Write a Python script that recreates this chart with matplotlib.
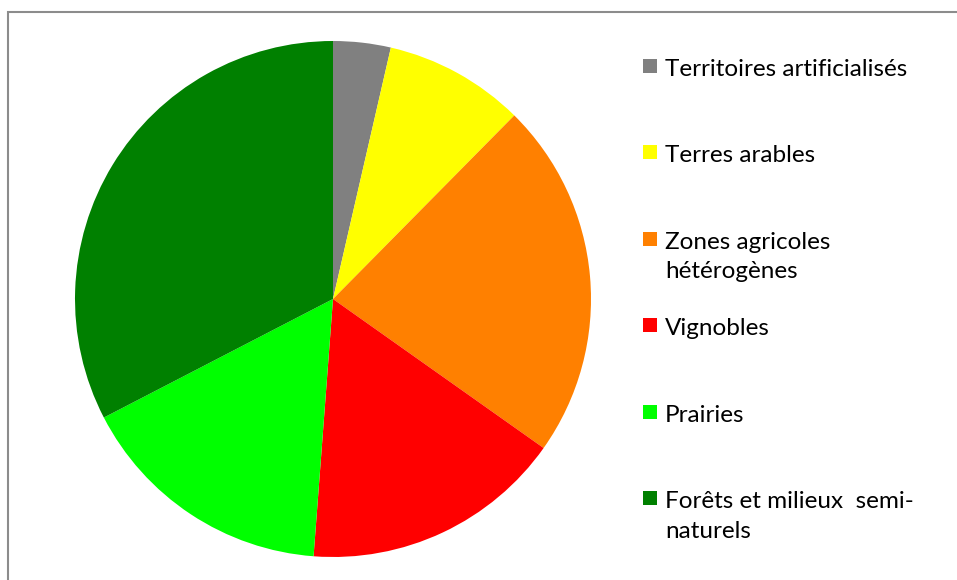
import matplotlib
matplotlib.use("Agg")
import matplotlib.pyplot as plt
from matplotlib.patches import Rectangle

# share of each land cover type (%)
labels = ["Territoires artificialisés", "Terres arables",
          "Zones agricoles\nhétérogènes", "Vignobles", "Prairies",
          "Forêts et milieux  semi-\nnaturels"]
values = [3.6, 8.8, 22.4, 16.4, 16.2, 32.6]
colors = ["#808080", "#ffff00", "#ff8000", "#ff0000", "#00ff00", "#008000"]

W, H = 957, 580
fig = plt.figure(figsize=(W / 100, H / 100), dpi=100)

# chart frame (only top and left edges fall inside the image)
fig.patches.append(Rectangle((8 / W, -0.1), 1.2, 1 - 12 / H + 0.1,
                             transform=fig.transFigure, fill=False,
                             edgecolor="#8c8c8c", linewidth=1.5))

# pie: centre (333, 299) px, radius 258 px
cx, cy, r = 333, 299, 258
ax = fig.add_axes([(cx - r) / W, (H - cy - r) / H, 2 * r / W, 2 * r / H])
ax.pie(values, colors=colors, startangle=90, counterclock=False,
       wedgeprops=dict(linewidth=0))
ax.set_xlim(-1, 1)
ax.set_ylim(-1, 1)
ax.set_aspect("auto")
ax.axis("off")

# legend drawn by hand so the square lines up with the first text line
y0, step = 66, 86.4
for i, (lab, col) in enumerate(zip(labels, colors)):
    y = y0 + i * step
    fig.patches.append(Rectangle((643 / W, 1 - (y + 7) / H), 14 / W, 14 / H,
                                 transform=fig.transFigure, facecolor=col,
                                 edgecolor="none"))
    fig.text(665 / W, 1 - (y - 7) / H, lab, ha="left", va="top",
             fontsize=17.5, family="Lato", linespacing=1.5, color="#000000")

fig.savefig("out.png", dpi=100)
